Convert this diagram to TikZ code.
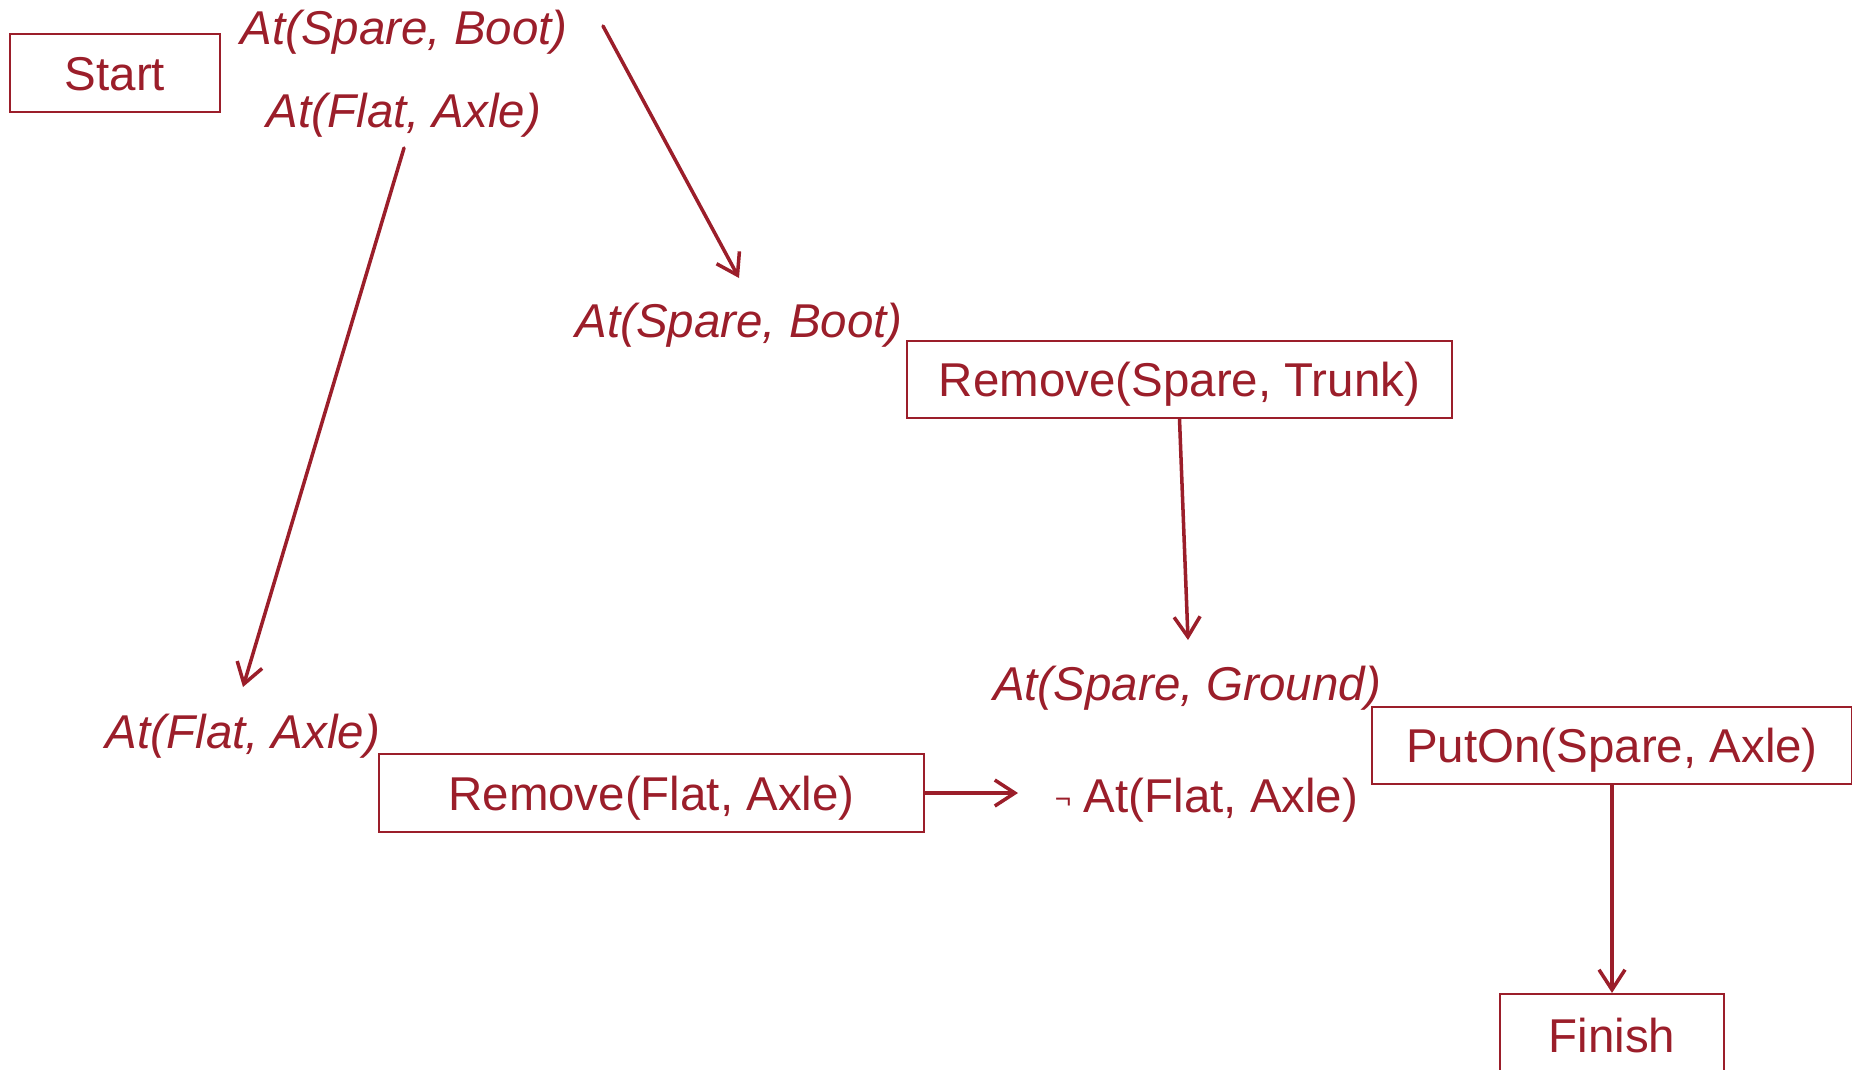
\documentclass[tikz,border=0pt]{standalone}
\usepackage{fontspec}
\setmainfont{Liberation Sans}
\usetikzlibrary{arrows.meta}
\definecolor{plan}{RGB}{155,30,42}
\begin{document}
\begin{tikzpicture}[x=0.01cm,y=-0.01cm,
  every node/.style={text=plan,font=\fontsize{13.5}{16}\selectfont,inner sep=0pt,
    text height=9.8pt,text depth=0pt},
  act/.style={draw=plan,line width=0.6pt,minimum height=0.77cm},
  cond/.style={font=\fontsize{13.5}{16}\selectfont\itshape},
  arr/.style={draw=plan,line width=1pt,line cap=round,
    -{Straight Barb[length=2mm,width=2.6mm,line width=1pt]}}]
\useasboundingbox (0,0) rectangle (1852,1069);

% actions
\node[act,minimum width=2.1cm,minimum height=0.78cm] (start) at (115,73) {Start};
\node[act,minimum width=5.45cm] (rst) at (1179.5,379.5) {Remove(Spare, Trunk)};
\node[act,minimum width=5.45cm,minimum height=0.78cm] (rfa) at (651.5,793) {Remove(Flat, Axle)};
\node[act,minimum width=4.8cm] (pon) at (1612,745.5) {PutOn(Spare, Axle)};
\node[act,minimum width=2.24cm,minimum height=0.82cm] (fin) at (1612,1035) {Finish};

% conditions
\node[cond] (sb1) at (404,27) {At(Spare, Boot)};
\node[cond] (fa1) at (404,110) {At(Flat, Axle)};
\node[cond] (sb2) at (739,320) {At(Spare, Boot)};
\node[cond] (sg) at (1187,683) {At(Spare, Ground)};
\node[cond] (fa2) at (243,731) {At(Flat, Axle)};
\node (nfa) at (1221,795) {At(Flat, Axle)};
\node[font=\fontsize{8}{9}\selectfont,text height=,text depth=] (neg) at (1063,803) {¬};

% connector ends
\coordinate (c1s) at (603,26);
\coordinate (c1e) at (739,278);
\coordinate (c2s) at (404,148);
\coordinate (c2e) at (243,687);
\coordinate (c3e) at (1188,640);
\coordinate (c4e) at (1018,793);

% causal links
\draw[arr] (c1s) -- (c1e);
\draw[arr] (c2s) -- (c2e);
\draw[arr] (rst.south) -- (c3e);
\draw[arr] (rfa.east) -- (c4e);
\draw[arr] (pon.south) -- (fin.north);
\end{tikzpicture}
\end{document}
